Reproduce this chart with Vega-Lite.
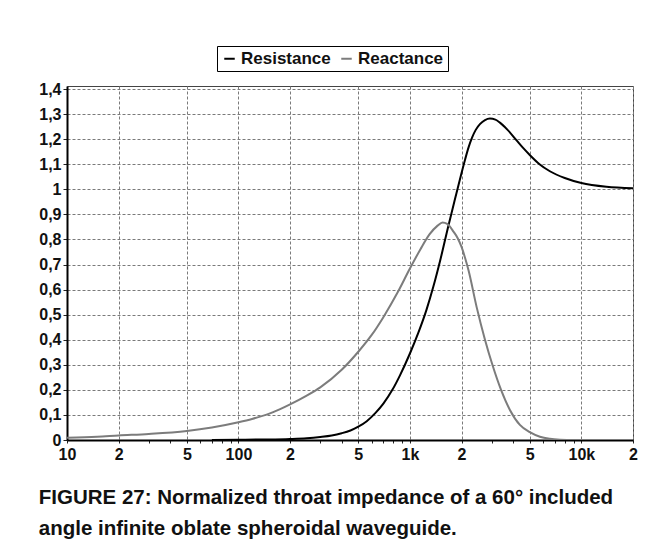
{
  "$schema": "https://vega.github.io/schema/vega-lite/v6.json",
  "autosize": {"type": "none"},
  "padding": {"left": 67, "top": 86, "right": 30, "bottom": 119},
  "width": 566,
  "height": 354,
  "background": "#ffffff",
  "title": {
    "text": ["FIGURE 27: Normalized throat impedance of a 60° included", "angle infinite oblate spheroidal waveguide."],
    "orient": "bottom",
    "anchor": "start",
    "frame": "bounds",
    "font": "Liberation Sans",
    "fontSize": 20.5,
    "fontWeight": "bold",
    "color": "#111111",
    "offset": 26,
    "lineHeight": 31
  },
  "config": {
    "view": {"stroke": "#444444", "strokeWidth": 1},
    "axis": {
      "labelFont": "Liberation Sans",
      "labelFontWeight": "bold",
      "labelFontSize": 16,
      "labelColor": "#111111",
      "domainColor": "#000000",
      "domainWidth": 2,
      "tickColor": "#222222",
      "gridColor": "#7a7a7a",
      "gridDash": [3, 2],
      "gridWidth": 1,
      "title": null
    },
    "legend": {
      "orient": "none",
      "legendX": 150,
      "legendY": -40,
      "direction": "horizontal",
      "strokeColor": "#000000",
      "fillColor": "#ffffff",
      "padding": 4,
      "symbolType": "stroke",
      "symbolSize": 110,
      "symbolStrokeWidth": 2,
      "labelFont": "Liberation Sans",
      "labelFontWeight": "bold",
      "labelFontSize": 17,
      "labelColor": "#111111",
      "labelOffset": 3,
      "columnPadding": 6,
      "title": null
    }
  },
  "data": {
    "values": [
      {"f": 70, "v": 0, "s": "Resistance"},
      {"f": 100, "v": 0.001, "s": "Resistance"},
      {"f": 150, "v": 0.002, "s": "Resistance"},
      {"f": 200, "v": 0.004, "s": "Resistance"},
      {"f": 250, "v": 0.007, "s": "Resistance"},
      {"f": 300, "v": 0.012, "s": "Resistance"},
      {"f": 350, "v": 0.018, "s": "Resistance"},
      {"f": 400, "v": 0.027, "s": "Resistance"},
      {"f": 450, "v": 0.038, "s": "Resistance"},
      {"f": 500, "v": 0.053, "s": "Resistance"},
      {"f": 560, "v": 0.075, "s": "Resistance"},
      {"f": 630, "v": 0.108, "s": "Resistance"},
      {"f": 700, "v": 0.145, "s": "Resistance"},
      {"f": 790, "v": 0.2, "s": "Resistance"},
      {"f": 875, "v": 0.258, "s": "Resistance"},
      {"f": 1000, "v": 0.345, "s": "Resistance"},
      {"f": 1120, "v": 0.428, "s": "Resistance"},
      {"f": 1250, "v": 0.52, "s": "Resistance"},
      {"f": 1370, "v": 0.612, "s": "Resistance"},
      {"f": 1500, "v": 0.715, "s": "Resistance"},
      {"f": 1670, "v": 0.85, "s": "Resistance"},
      {"f": 1830, "v": 0.96, "s": "Resistance"},
      {"f": 2000, "v": 1.065, "s": "Resistance"},
      {"f": 2100, "v": 1.12, "s": "Resistance"},
      {"f": 2200, "v": 1.168, "s": "Resistance"},
      {"f": 2300, "v": 1.205, "s": "Resistance"},
      {"f": 2420, "v": 1.237, "s": "Resistance"},
      {"f": 2560, "v": 1.26, "s": "Resistance"},
      {"f": 2740, "v": 1.276, "s": "Resistance"},
      {"f": 2930, "v": 1.282, "s": "Resistance"},
      {"f": 3150, "v": 1.278, "s": "Resistance"},
      {"f": 3350, "v": 1.266, "s": "Resistance"},
      {"f": 3700, "v": 1.238, "s": "Resistance"},
      {"f": 4190, "v": 1.195, "s": "Resistance"},
      {"f": 4600, "v": 1.163, "s": "Resistance"},
      {"f": 5000, "v": 1.137, "s": "Resistance"},
      {"f": 5700, "v": 1.1, "s": "Resistance"},
      {"f": 6550, "v": 1.072, "s": "Resistance"},
      {"f": 8000, "v": 1.045, "s": "Resistance"},
      {"f": 10000, "v": 1.025, "s": "Resistance"},
      {"f": 14000, "v": 1.01, "s": "Resistance"},
      {"f": 20000, "v": 1.004, "s": "Resistance"},
      {"f": 10, "v": 0.009, "s": "Reactance"},
      {"f": 15, "v": 0.013, "s": "Reactance"},
      {"f": 20, "v": 0.018, "s": "Reactance"},
      {"f": 30, "v": 0.024, "s": "Reactance"},
      {"f": 50, "v": 0.036, "s": "Reactance"},
      {"f": 70, "v": 0.05, "s": "Reactance"},
      {"f": 100, "v": 0.071, "s": "Reactance"},
      {"f": 120, "v": 0.084, "s": "Reactance"},
      {"f": 150, "v": 0.104, "s": "Reactance"},
      {"f": 175, "v": 0.123, "s": "Reactance"},
      {"f": 200, "v": 0.142, "s": "Reactance"},
      {"f": 250, "v": 0.177, "s": "Reactance"},
      {"f": 300, "v": 0.21, "s": "Reactance"},
      {"f": 400, "v": 0.28, "s": "Reactance"},
      {"f": 500, "v": 0.352, "s": "Reactance"},
      {"f": 600, "v": 0.42, "s": "Reactance"},
      {"f": 700, "v": 0.49, "s": "Reactance"},
      {"f": 850, "v": 0.59, "s": "Reactance"},
      {"f": 1000, "v": 0.684, "s": "Reactance"},
      {"f": 1150, "v": 0.76, "s": "Reactance"},
      {"f": 1300, "v": 0.82, "s": "Reactance"},
      {"f": 1450, "v": 0.855, "s": "Reactance"},
      {"f": 1550, "v": 0.868, "s": "Reactance"},
      {"f": 1650, "v": 0.862, "s": "Reactance"},
      {"f": 1800, "v": 0.83, "s": "Reactance"},
      {"f": 1900, "v": 0.805, "s": "Reactance"},
      {"f": 2000, "v": 0.77, "s": "Reactance"},
      {"f": 2100, "v": 0.725, "s": "Reactance"},
      {"f": 2200, "v": 0.675, "s": "Reactance"},
      {"f": 2450, "v": 0.53, "s": "Reactance"},
      {"f": 2740, "v": 0.4, "s": "Reactance"},
      {"f": 3040, "v": 0.296, "s": "Reactance"},
      {"f": 3400, "v": 0.2, "s": "Reactance"},
      {"f": 3830, "v": 0.12, "s": "Reactance"},
      {"f": 4380, "v": 0.06, "s": "Reactance"},
      {"f": 5000, "v": 0.031, "s": "Reactance"},
      {"f": 5730, "v": 0.013, "s": "Reactance"},
      {"f": 6550, "v": 0.005, "s": "Reactance"},
      {"f": 7500, "v": 0.0015, "s": "Reactance"},
      {"f": 9000, "v": 0, "s": "Reactance"},
      {"f": 20000, "v": 0, "s": "Reactance"}
    ]
  },
  "mark": {"type": "line", "strokeWidth": 2, "interpolate": "monotone", "clip": true},
  "encoding": {
    "x": {
      "field": "f",
      "type": "quantitative",
      "scale": {"type": "log", "domain": [10, 20000], "nice": false},
      "axis": {
        "values": [10, 20, 30, 40, 50, 60, 70, 80, 90, 100, 200, 300, 400, 500, 600, 700, 800, 900, 1000, 2000, 3000, 4000, 5000, 6000, 7000, 8000, 9000, 10000, 20000],
        "tickSize": 3,
        "labelPadding": 3,
        "labelOverlap": false,
        "labelBound": false,
        "labelFlush": false,
        "labelExpr": "datum.value == 10 ? '10' : datum.value == 100 ? '100' : datum.value == 1000 ? '1k' : datum.value == 10000 ? '10k' : (indexof([2, 5], round(datum.value / pow(10, floor(log(datum.value) / LN10 + 1e-9)))) >= 0 ? format(round(datum.value / pow(10, floor(log(datum.value) / LN10 + 1e-9))), 'd') : '')",
        "gridOpacity": {
          "condition": {"test": "indexof([1, 2, 5], round(datum.value / pow(10, floor(log(datum.value) / LN10 + 1e-9)))) >= 0", "value": 1},
          "value": 0
        }
      }
    },
    "y": {
      "field": "v",
      "type": "quantitative",
      "scale": {"domain": [0, 1.412], "nice": false},
      "axis": {
        "values": [0, 0.1, 0.2, 0.3, 0.4, 0.5, 0.6, 0.7, 0.8, 0.9, 1, 1.1, 1.2, 1.3, 1.4],
        "tickSize": 4,
        "labelPadding": 2,
        "labelExpr": "replace(format(datum.value, '.1~f'), '.', ',')"
      }
    },
    "color": {
      "field": "s",
      "type": "nominal",
      "scale": {"domain": ["Resistance", "Reactance"], "range": ["#000000", "#7c7c7c"]},
      "legend": {}
    }
  }
}
